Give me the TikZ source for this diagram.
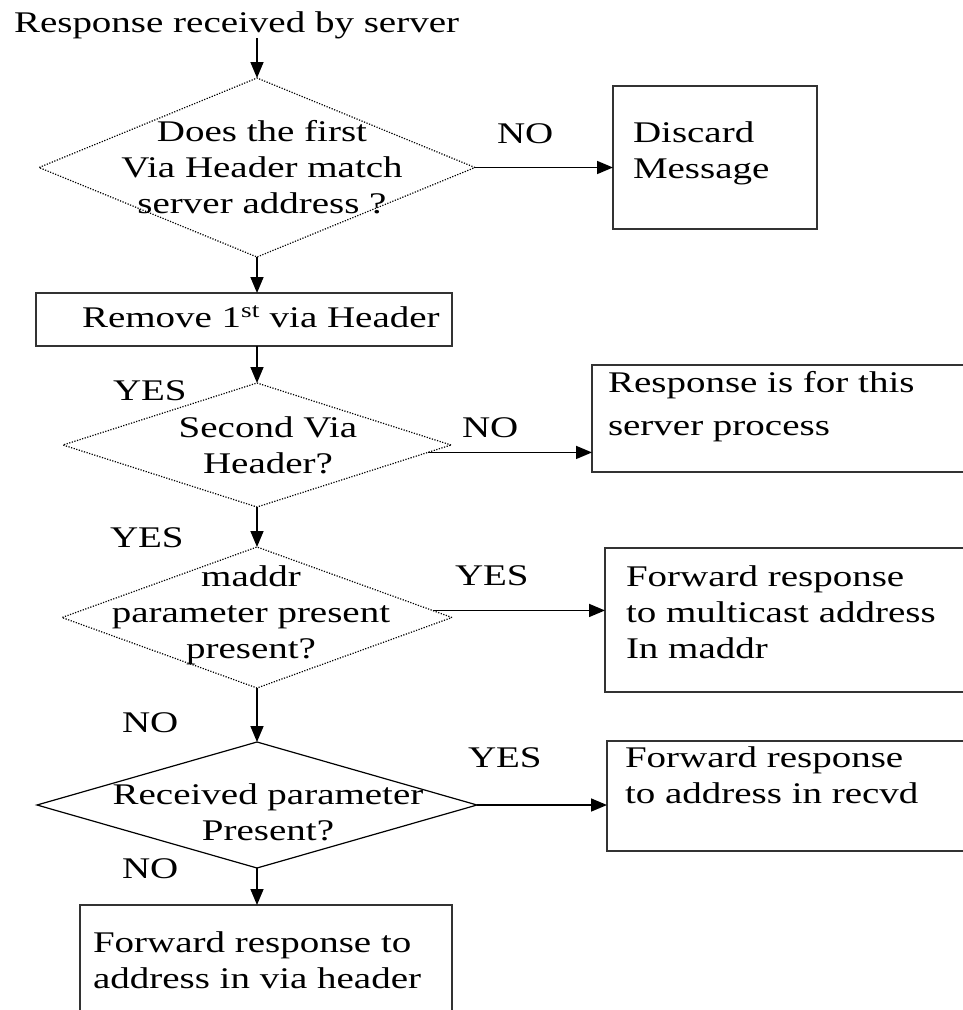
\documentclass[tikz,border=0pt]{standalone}
\usepackage{fontspec}
\setmainfont{Liberation Serif}[FakeStretch=1.3]
\usetikzlibrary{arrows.meta,shapes.geometric,calc}

\begin{document}
\begin{tikzpicture}[x=1pt,y=-1pt,
    every node/.style={font=\fontsize{30}{36}\selectfont, inner sep=0pt, outer sep=0pt},
    txt/.style={anchor=base west, align=left},
    ctxt/.style={anchor=base, align=center},
    query/.style={diamond, draw, line width=1.2pt, dash pattern=on 1.2pt off 1.5pt},
    box/.style={draw=black!80, line width=1.3pt, anchor=north west},
    flow/.style={line width=1.6pt, -{Triangle[length=16pt,width=13pt]}}]
      \useasboundingbox (0,0) rectangle (963,1010);
      \clip (0,0) rectangle (963,1010);

      \node (title) at (14,32) [txt] {Response received by server};

      \node (d1) at (257,167.5) [query, minimum width=436pt, minimum height=179pt] {};
      \node (d1txt) at (262,213) [ctxt] {Does the first\\Via Header match\\server address ?};
      \node (no1) at (497,143) [txt] {NO};
      \node (discard) at (613,86) [box, minimum width=204pt, minimum height=143pt] {};
      \node (discardtxt) at (633,178) [txt] {Discard\\Message};

      \node (remove) at (36,293) [box, minimum width=416pt, minimum height=53pt] {};
      \node (removetxt) at (82,327) [txt] {Remove 1\textsuperscript{st} via Header};

      \node (d2) at (257,445) [query, minimum width=388pt, minimum height=124pt] {};
      \node (d2txt) at (268,473) [ctxt] {Second Via\\Header?};
      \node (yes2) at (113,400) [txt] {YES};
      \node (no2) at (462,437) [txt] {NO};
      \node (local) at (592,365) [box, minimum width=390pt, minimum height=107pt] {};
      \node (localtxt) at (608,435) [txt] {Response is for this\\[7pt]server process};

      \node (d3) at (257,617.5) [query, minimum width=390pt, minimum height=141pt] {};
      \node (d3txt) at (251,658) [ctxt] {maddr\\parameter present\\present?};
      \node (yes3) at (110,547) [txt] {YES};
      \node (yes3r) at (455,585) [txt] {YES};
      \node (mcast) at (605,548) [box, minimum width=380pt, minimum height=144pt] {};
      \node (mcasttxt) at (626,658) [txt] {Forward response\\to multicast address\\In maddr};

      \node (d4) at (257,805) [query, solid, minimum width=440pt, minimum height=126pt] {};
      \node (d4txt) at (268,840) [ctxt] {Received parameter\\Present?};
      \node (no4a) at (122,732) [txt] {NO};
      \node (yes4) at (468,767) [txt] {YES};
      \node (no4b) at (122,878) [txt] {NO};
      \node (recvd) at (607,741) [box, minimum width=380pt, minimum height=110pt] {};
      \node (recvdtxt) at (625,803) [txt] {Forward response\\to address in recvd};

      \node (via) at (80,905) [box, minimum width=372pt, minimum height=130pt] {};
      \node (viatxt) at (93,988) [txt] {Forward response to\\address in via header};

      \coordinate (d2out) at ($(d2.east)!0.12!(d2.south)$);
      \coordinate (d3out) at ($(d3.east)!0.1!(d3.north)$);

      \draw[flow] (title.south -| d1.north) -- (d1.north);
      \draw[flow] (d1.east) -- (d1.east -| discard.west);
      \draw[flow] (d1.south) -- (d1.south |- remove.north);
      \draw[flow] (d1.south |- remove.south) -- (d2.north);
      \draw[flow] (d2out) -- (d2out -| local.west);
      \draw[flow] (d2.south) -- (d3.north);
      \draw[flow] (d3out) -- (d3out -| mcast.west);
      \draw[flow] (d3.south) -- (d4.north);
      \draw[flow] (d4.east) -- (d4.east -| recvd.west);
      \draw[flow] (d4.south) -- (d4.south |- via.north);
    \end{tikzpicture}
\end{document}
